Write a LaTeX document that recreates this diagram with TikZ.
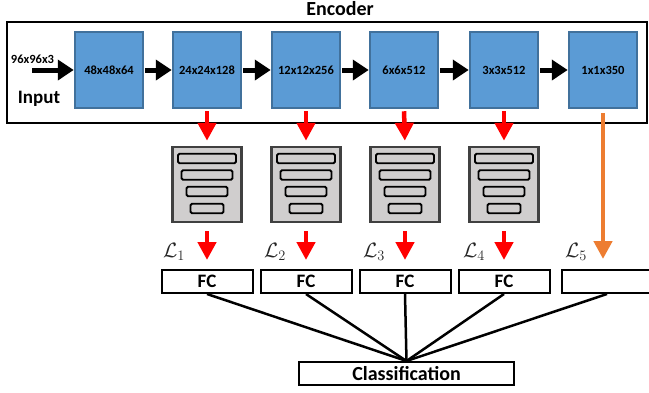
\documentclass[tikz,border=0pt]{standalone}
\usepackage{fontspec}
\setmainfont{Carlito}
\usetikzlibrary{arrows.meta}
\definecolor{layerblue}{HTML}{5B9BD5}
\definecolor{layeredge}{HTML}{41719C}
\definecolor{stackgray}{HTML}{D0CECE}
\definecolor{stackedge}{HTML}{404040}
\definecolor{skiporange}{HTML}{ED7D31}

\begin{document}
\begin{tikzpicture}[x=1pt, y=-1pt,
    layer/.style={draw=layeredge, fill=layerblue, line width=2.5pt, minimum width=68pt,
      minimum height=76pt, inner sep=0pt, font=\fontsize{12.5}{14}\selectfont\bfseries},
    fwd/.style={-{Triangle[length=16pt,width=20pt]}, line width=5pt},
    down/.style={-{Triangle[length=18pt,width=18pt]}, line width=4.5pt},
    stack/.style={draw=stackedge, fill=stackgray, line width=2.5pt, minimum width=69pt,
      minimum height=75pt, inner sep=0pt},
    bar/.style={draw, fill=stackgray, line width=1.8pt, rounded corners=1.5pt,
      minimum height=9.5pt, inner sep=0pt},
    fc/.style={draw, line width=2pt, minimum width=91pt, minimum height=23pt, inner sep=0pt,
      font=\fontsize{19}{20}\selectfont\bfseries},
    loss/.style={font=\fontsize{22}{24}\selectfont, text=black!85}]
      \useasboundingbox (0,0) rectangle (649,392);
      % encoder frame
      \node (enc) at (327,72.5) [draw, line width=2pt, minimum width=640pt, minimum height=101pt] {};
      \node (title) at (340,15) [anchor=base, font=\fontsize{20}{22}\selectfont\bfseries] {Encoder};
      \node (size) at (32.5,63) [anchor=base, font=\fontsize{12.5}{14}\selectfont\bfseries] {96x96x3};
      \node (input) at (39,103) [anchor=base, font=\fontsize{19}{20}\selectfont\bfseries] {Input};
      \coordinate (in) at (32,70);
      \foreach \i/\x/\t in {1/109/48x48x64, 2/207/24x24x128, 3/306/12x12x256,
                           4/404/6x6x512, 5/504/3x3x512, 6/603/1x1x350}
               {
                 \node (e\i) at (\x,70) [layer] {\t};
               }
      \draw[fwd, shorten <=0pt] (in) -- (e1.west);
      \foreach \i/\j in {1/2, 2/3, 3/4, 4/5, 5/6}
               \draw[fwd, shorten <=1pt] (e\i.east) -- (e\j.west);
      % side branches
      \foreach \i/\x in {2/207, 3/306, 4/405, 5/504}
               {
                 \node (s\i) at (\x,184.5) [stack] {};
                 \foreach \j/\y/\w in {a/158.5/58, b/175/51, c/191.5/41, d/208.5/33}
                          \node (s\i\j) at (\x,\y) [bar, minimum width=\w] {};
                 \node (f\i) at (\x,281.5) [fc] {FC};
                 \draw[down, red, shorten <=2pt, shorten >=5pt] (e\i.south) -- (s\i.north);
                 \draw[down, red, shorten <=8pt, shorten >=9pt] (s\i.south) -- (f\i.north);
               }
      \node (f6) at (607,281.5) [fc] {};
      \draw[down, skiporange, shorten <=4pt, shorten >=10pt] (e6.south) -- (e6.south |- f6.north);
      % losses
      \foreach \i/\x in {2/174, 3/275, 4/374, 5/474, 6/576}
               {
                 \pgfmathtruncatemacro{\k}{\i-1}
                 \node (l\i) at (\x,252) [loss] {$\mathcal{L}_{\k}$};
               }
      % classifier
      \node (cls) at (406.5,373.5) [fc, minimum width=215pt, font=\fontsize{20}{22}\selectfont\bfseries] {Classification};
      \foreach \i in {2,3,4,5,6}
               \draw[line width=2.5pt] (f\i.south) -- (cls.north);
\end{tikzpicture}
\end{document}
